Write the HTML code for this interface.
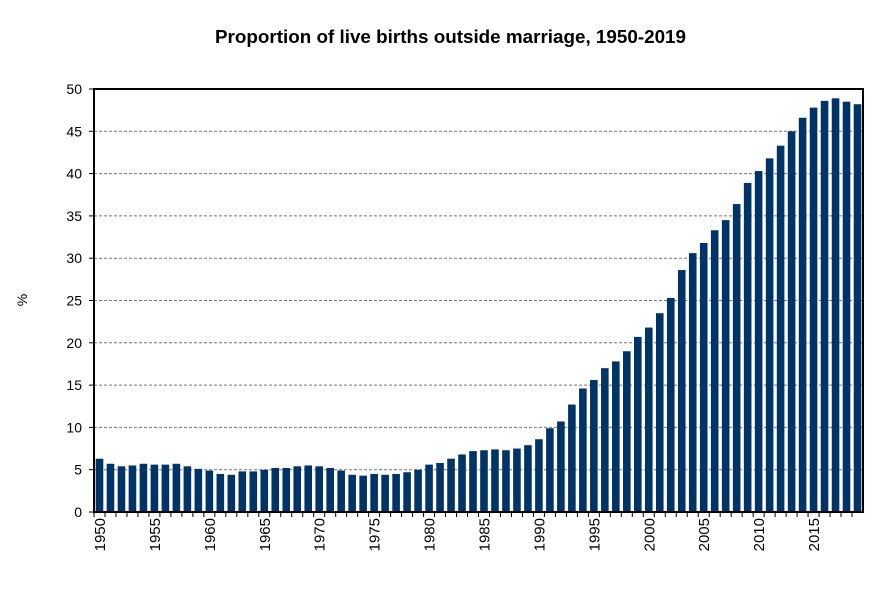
<!DOCTYPE html>
<html><head><meta charset="utf-8"><style>
body{margin:0;background:#fff;font-family:"Liberation Sans",Arial,sans-serif}
svg text{font-family:"Liberation Sans",Arial,sans-serif}
</style></head><body>
<svg id="c" width="890" height="593" xmlns="http://www.w3.org/2000/svg">
<text x="215" y="43" font-size="18.5" font-weight="bold" textLength="471" lengthAdjust="spacingAndGlyphs">Proportion of live births outside marriage, 1950-2019</text>
<text transform="translate(27,300) rotate(-90)" text-anchor="middle" font-size="14">%</text>
<g id="grid"></g><g id="bars"></g><g id="axes"></g>
</svg>
<script>
const years=[];for(let y=1950;y<=2019;y++)years.push(y);
const values=[6.3,5.7,5.4,5.5,5.7,5.6,5.6,5.7,5.4,5.1,4.9,4.5,4.4,4.8,4.8,5.0,5.2,5.2,5.4,5.5,5.4,5.2,4.9,4.4,4.3,4.5,4.4,4.5,4.7,5.0,5.6,5.8,6.3,6.8,7.2,7.3,7.4,7.3,7.5,7.9,8.6,9.9,10.7,12.7,14.6,15.6,17.0,17.8,19.0,20.7,21.8,23.5,25.3,28.6,30.6,31.8,33.3,34.5,36.4,38.9,40.3,41.8,43.3,45.0,46.6,47.8,48.6,48.9,48.5,48.2];
const yTicks=[0,5,10,15,20,25,30,35,40,45,50];
const L=94,R=863,T=89,B=512,NS="http://www.w3.org/2000/svg";
const slot=(R-L)/years.length;
const bw=7.6;
const y=v=>B-(v/50)*(B-T);
const x=i=>L+i*slot;
function mk(t,a,p){const e=document.createElementNS(NS,t);for(const k in a)e.setAttribute(k,a[k]);p.appendChild(e);return e;}
const g=document.getElementById('grid'),b=document.getElementById('bars'),ax=document.getElementById('axes');
yTicks.forEach(v=>{
 if(v>0&&v<50){const l=mk('line',{x1:L,x2:R,y1:y(v),y2:y(v),stroke:'#777','stroke-dasharray':'3,2','stroke-width':1},g);
 
 }
 const t=mk('text',{x:L-12,y:y(v)+5,'text-anchor':'end','font-size':14},ax);t.textContent=v;
 
 
 mk('line',{x1:L-5,x2:L,y1:y(v),y2:y(v),stroke:'#000'},ax);
});
values.forEach((v,i)=>{
 const r=mk('rect',{x:x(i)+(slot-bw)/2,y:y(v),width:bw,height:B-y(v),fill:'#003366'},b);
 
 
 mk('line',{x1:x(i),x2:x(i),y1:B,y2:B+5,stroke:'#000'},ax);
 if(years[i]%5===0){const t=mk('text',{transform:`translate(${x(i)+slot/2+5.5},${B+6}) rotate(-90)`,'text-anchor':'end','font-size':15},ax);t.textContent=years[i];
 
 }
});
const f=mk('rect',{x:L,y:T,width:R-L,height:B-T,fill:'none',stroke:'#000','stroke-width':2},ax);


</script>
</body></html>
